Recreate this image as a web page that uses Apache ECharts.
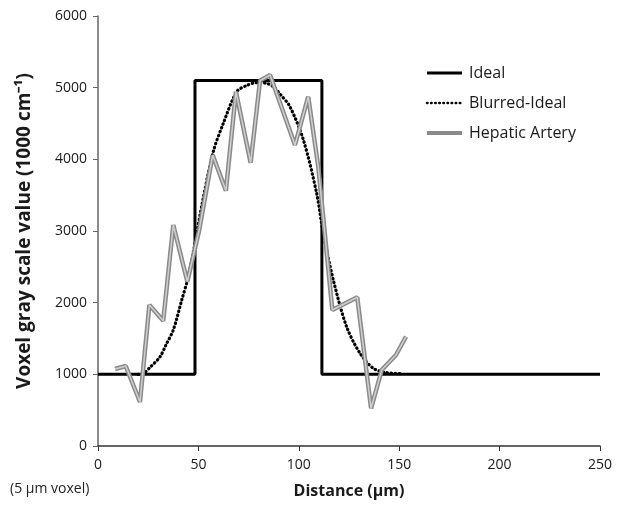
<!DOCTYPE html>
<html>
<head>
<meta charset="utf-8">
<script src="https://cdn.jsdelivr.net/npm/echarts@6/dist/echarts.min.js"></script>
<style>
  html, body { margin: 0; padding: 0; background: #fff; }
  #myChart { width: 626px; height: 508px; }
</style>
</head>
<body>
<div id="myChart"></div>
<script>
// ideal profile (step)
var idealX = [0, 48.3, 48.3, 111.5, 111.5, 250];
var idealY = [1000, 1000, 5100, 5100, 1000, 1000];

// blurred ideal profile
var blurX = [20, 22.6, 26, 30.9, 34, 37.5, 41.7, 45, 48.3, 52, 57.4, 62.4, 69.1, 74, 79, 84, 87.3, 91, 95.6, 102.3, 108.9, 112.2, 117.2, 123.8, 130.5, 137.1, 143.8, 150.4];
var blurY = [1000, 1014, 1100, 1246, 1420, 1619, 2037, 2362, 2828, 3400, 4106, 4502, 4944, 5030, 5070, 5060, 5014, 4900, 4735, 4270, 3526, 2967, 2316, 1665, 1293, 1084, 1023, 1010];

// measured hepatic artery profile
var arteryX = [8.5, 13.8, 20.9, 25.6, 32.5, 37.5, 44.5, 50.3, 57.1, 63.7, 68.7, 76, 80.7, 85.7, 98.1, 104.7, 109.7, 116.7, 129.1, 136, 141.3, 148.4, 153.4];
var arteryY = [1074, 1116, 614, 1967, 1749, 3084, 2293, 3000, 4060, 3563, 4944, 3953, 5098, 5177, 4200, 4874, 3897, 1898, 2075, 526, 1060, 1270, 1525];

var xTicks = [0, 50, 100, 150, 200, 250];
var yTicks = [0, 1000, 2000, 3000, 4000, 5000, 6000];

function pairs(xs, ys) {
  return xs.map(function (x, i) { return [x, ys[i]]; });
}

var font = "'Open Sans', 'Liberation Sans', sans-serif";
var myChart = echarts.init(document.getElementById("myChart"));

myChart.setOption({
  animation: false,
  textStyle: { fontFamily: font },
  grid: { left: 98, right: 26, top: 16, bottom: 62 },
  legend: {
    orient: "vertical",
    left: 420,
    top: 60,
    itemGap: 14,
    itemWidth: 35,
    itemHeight: 18,
    itemStyle: { opacity: 0 },
    textStyle: { fontSize: 16, color: "#1a1a1a", fontFamily: font, padding: [0, 0, 0, 2] },
    data: [
      { name: "Ideal", lineStyle: { width: 3 } },
      { name: "Blurred-Ideal", lineStyle: { width: 2.5 } },
      { name: "Hepatic Artery", lineStyle: { width: 4 } }
    ]
  },
  graphic: [
    {
      type: "text",
      left: 10,
      top: 482,
      style: { text: "(5 µm voxel)", fontSize: 14, fill: "#222", fontFamily: font }
    }
  ],
  xAxis: {
    type: "value",
    min: xTicks[0],
    max: xTicks[xTicks.length - 1],
    interval: 50,
    name: "Distance (µm)",
    nameLocation: "middle",
    nameGap: 37,
    nameTextStyle: { fontSize: 16, fontWeight: "bold", color: "#1a1a1a" },
    axisLine: { lineStyle: { color: "#333", width: 1.5 } },
    axisTick: { show: true, length: 5, lineStyle: { color: "#333" } },
    axisLabel: { fontSize: 14, color: "#1a1a1a", margin: 12 },
    splitLine: { show: false }
  },
  yAxis: {
    type: "value",
    min: yTicks[0],
    max: yTicks[yTicks.length - 1],
    interval: 1000,
    name: "Voxel gray scale value (1000 cm\u207B\u00B9)",
    nameLocation: "middle",
    nameGap: 64,
    nameTextStyle: { fontSize: 19, fontWeight: "bold", color: "#1a1a1a" },
    axisLine: { show: true, lineStyle: { color: "#666", width: 1.5 } },
    axisTick: { show: true, length: 5, lineStyle: { color: "#666" } },
    axisLabel: { fontSize: 14, color: "#1a1a1a", margin: 11, formatter: function (v) { return String(v); } },
    splitLine: { show: false }
  },
  series: [
    {
      name: "Ideal",
      type: "line",
      showSymbol: false,
      symbol: "none",
      lineStyle: { color: "#000", width: 3 },
      itemStyle: { color: "#000" },
      data: pairs(idealX, idealY)
    },
    {
      name: "Blurred-Ideal",
      type: "line",
      showSymbol: false,
      symbol: "none",
      smooth: 0.3,
      lineStyle: { color: "#000", width: 3.2, type: [0.5, 3.6], cap: "round" },
      itemStyle: { color: "#000" },
      data: pairs(blurX, blurY)
    },
    {
      name: "Hepatic Artery",
      type: "line",
      showSymbol: false,
      symbol: "none",
      lineStyle: { color: "#8a8a8a", width: 4.5 },
      itemStyle: { color: "#8a8a8a" },
      data: pairs(arteryX, arteryY)
    },
    {
      name: "artery-inner",
      type: "line",
      showSymbol: false,
      symbol: "none",
      silent: true,
      lineStyle: { color: "#cfcfcf", width: 1.5 },
      data: pairs(arteryX, arteryY)
    }
  ]
});
</script>
</body>
</html>
